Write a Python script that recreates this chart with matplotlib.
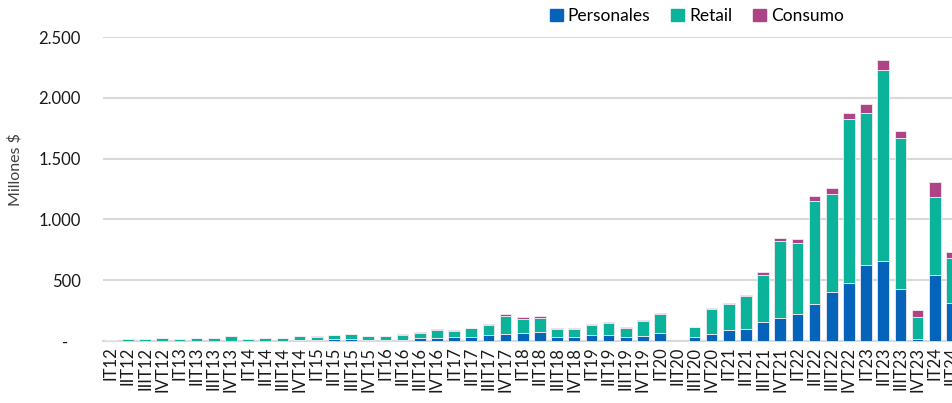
import matplotlib
matplotlib.use('Agg')
import matplotlib.ticker as ticker
from matplotlib import pyplot as plt
from matplotlib.patches import Patch
import numpy as np

# Trimestres
labels = ['IT12', 'IIT12', 'IIIT12', 'IVT12', 'IT13', 'IIT13', 'IIIT13', 'IVT13',
		  'IT14', 'IIT14', 'IIIT14', 'IVT14', 'IT15', 'IIT15', 'IIIT15', 'IVT15',
		  'IT16', 'IIT16', 'IIIT16', 'IVT16', 'IT17', 'IIT17', 'IIIT17', 'IVT17',
		  'IT18', 'IIT18', 'IIIT18', 'IVT18', 'IT19', 'IIT19', 'IIIT19', 'IVT19',
		  'IT20', 'IIT20', 'IIIT20', 'IVT20', 'IT21', 'IIT21', 'IIIT21', 'IVT21',
		  'IT22', 'IIT22', 'IIIT22', 'IVT22', 'IT23', 'IIT23', 'IIIT23', 'IVT23',
		  'IT24', 'IIT24']

personales = [0, 1, 1, 1, 1, 2, 2, 3, 2, 3, 4, 6, 12, 15, 16, 8,
			  5, 11, 22, 25, 33, 33, 47, 56, 64, 72, 36, 31, 53, 47, 31, 39,
			  64, 1, 30, 55, 88, 96, 154, 187, 220, 303, 402, 474, 625, 658, 427, 14,
			  543, 311]
retail = [10, 15, 15, 22, 18, 22, 24, 40, 17, 21, 23, 34, 25, 33, 41, 32,
		  34, 36, 42, 67, 48, 70, 84, 152, 114, 120, 61, 66, 78, 98, 77, 122,
		  158, 2, 83, 209, 215, 270, 391, 637, 587, 846, 807, 1350, 1251, 1571, 1243, 184,
		  644, 375]
consumo = [1, 1, 1, 2, 1, 1, 2, 2, 1, 1, 1, 2, 2, 2, 2, 2,
		   3, 9, 8, 8, 11, 8, 11, 12, 17, 11, 11, 6, 11, 8, 6, 14,
		   9, 0, 5, 9, 11, 11, 20, 25, 33, 44, 53, 55, 77, 80, 55, 53,
		   119, 50]

C_PERS = '#0563B9'
C_RET = '#0BB39B'
C_CONS = '#AE4386'

plt.rcParams['font.family'] = ['Lato', 'DejaVu Sans']
plt.rcParams['font.size'] = 12

fig = plt.figure(figsize=(9.52, 4.03), dpi=100)
ax = fig.add_axes([103 / 952, 62 / 403, 849 / 952, 304 / 403])

x = np.arange(len(labels))
p = np.array(personales)
r = np.array(retail)
c = np.array(consumo)
kw = dict(width=0.68, edgecolor='#F2EAF2', linewidth=0.6, zorder=3)
ax.bar(x, p, color=C_PERS, **kw)
ax.bar(x, r, bottom=p, color=C_RET, **kw)
ax.bar(x, c, bottom=p + r, color=C_CONS, **kw)

ax.set_ylim(0, 2500)
ax.set_xlim(-0.45, 48.89)
ax.set_yticks(range(0, 2501, 500))


@ticker.FuncFormatter
def miles(v, pos):
	if v == 0:
		return '-   '
	return f'{int(v):,}'.replace(',', '.')


ax.yaxis.set_major_formatter(miles)
ax.grid(axis='y', color='#D9D9D9', linewidth=1.5, zorder=0)
for s in ['top', 'right', 'left']:
	ax.spines[s].set_visible(False)
ax.spines['bottom'].set_color('#D9D9D9')
ax.spines['bottom'].set_linewidth(1.5)
ax.tick_params(axis='y', length=0, pad=16, labelsize=12, colors='#1a1a1a')
ax.tick_params(axis='x', length=0, pad=4, labelsize=12, colors='#1a1a1a')
ax.set_xticks(x)
ax.set_xticklabels(labels, rotation=90, va='top', ha='center')

fig.text(15 / 952, 1 - 170 / 403, 'Millones $', rotation=90, ha='center', va='center',
		 fontsize=11.5, color='#404040')

handles = [Patch(color=C_PERS, label='Personales'),
		   Patch(color=C_RET, label='Retail'),
		   Patch(color=C_CONS, label='Consumo')]
fig.legend(handles=handles, loc='center', bbox_to_anchor=(697 / 952, 1 - 16 / 403), ncol=3,
		   frameon=False, handlelength=0.75, handleheight=0.75, handletextpad=0.3,
		   columnspacing=1.2, fontsize=12.5, borderaxespad=0)

fig.savefig('out.png', dpi=100)
